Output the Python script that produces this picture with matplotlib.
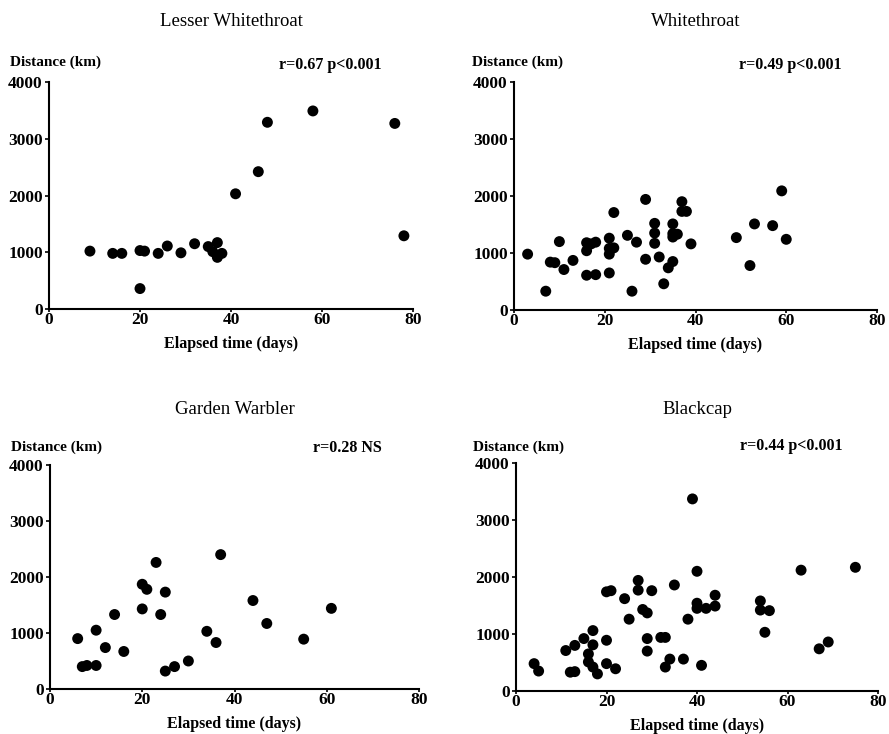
import numpy as np
import matplotlib
matplotlib.use("Agg")
import matplotlib.pyplot as plt

plt.rcParams['font.family'] = ['Liberation Serif', 'DejaVu Serif']

# Lesser Whitethroat
lw_days = [9, 14, 16, 20, 21, 20, 24, 26, 29, 32, 35, 36, 37, 37, 38, 41, 46, 48, 58, 76, 78]
lw_dist = [1020, 980, 980, 1030, 1020, 360, 980, 1110, 990, 1150, 1100, 1010, 1170, 910, 980,
           2030, 2420, 3290, 3490, 3270, 1290]

# Whitethroat
wt_days = [3, 7, 8, 9, 10, 11, 13, 16, 16, 16, 17, 18, 18, 21, 21, 21, 21, 22, 22, 25, 26, 27,
           29, 29, 31, 31, 31, 32, 33, 34, 35, 35, 35, 35, 36, 37, 37, 38, 39, 49, 52, 53, 57, 59, 60]
wt_dist = [980, 330, 840, 830, 1200, 710, 870, 1180, 1040, 610, 1160, 1190, 620, 1260, 1080, 980,
           650, 1090, 1710, 1310, 330, 1190, 890, 1940, 1520, 1350, 1170, 930, 460, 740, 850, 1510,
           1340, 1280, 1330, 1900, 1730, 1730, 1160, 1270, 780, 1510, 1480, 2090, 1240]

# Garden Warbler
gw_days = [6, 7, 8, 10, 10, 12, 14, 16, 20, 21, 20, 23, 24, 25, 25, 27, 30, 34, 36, 37, 44, 47, 55, 61]
gw_dist = [900, 400, 420, 1050, 420, 740, 1330, 670, 1870, 1780, 1430, 2260, 1330, 1730, 320,
           400, 500, 1030, 830, 2400, 1580, 1170, 890, 1440]

# Blackcap
bc_days = [4, 5, 11, 12, 13, 13, 15, 16, 16, 17, 17, 17, 18, 20, 20, 20, 21, 22, 24, 25, 27, 27,
           28, 29, 30, 29, 29, 32, 33, 33, 34, 35, 37, 38, 39, 40, 40, 40, 41, 42, 44, 44, 54, 54,
           56, 55, 63, 67, 69, 75]
bc_dist = [480, 350, 710, 330, 340, 800, 920, 650, 510, 1060, 810, 420, 300, 890, 480, 1740, 1760,
           390, 1620, 1260, 1940, 1770, 1430, 1370, 1760, 920, 700, 940, 940, 420, 560, 1860, 560,
           1260, 3370, 2100, 1540, 1450, 450, 1450, 1680, 1490, 1580, 1420, 1410, 1030, 2120, 740,
           860, 2170]

titles = ['Lesser Whitethroat', 'Whitethroat', 'Garden Warbler', 'Blackcap']
stats = ['r=0.67 p<0.001', 'r=0.49 p<0.001', 'r=0.28 NS', 'r=0.44 p<0.001']
series = [(lw_days, lw_dist), (wt_days, wt_dist), (gw_days, gw_dist), (bc_days, bc_dist)]

W, H = 889, 734
# axes boxes in pixels: left, top, right, bottom
boxes = [(49, 82, 413, 309), (514, 82, 877, 310), (50, 465, 419, 689), (516, 463, 878, 691)]
title_y = [22, 22, 410, 410]
stat_x = [382, 842, 382, 843]
ylab = [(10, 62), (472, 62), (11, 447), (473, 447)]

fig = plt.figure(figsize=(W / 100, H / 100), dpi=100)

for i, (l, t, r, b) in enumerate(boxes):
    ax = fig.add_axes([l / W, 1 - b / H, (r - l) / W, (b - t) / H])
    x, y = series[i]
    ax.scatter(x, y, s=62, color='black', edgecolors='none', clip_on=False, zorder=3)
    ax.set_xlim(0, 80)
    ax.set_ylim(0, 4000)
    ax.set_xticks([0, 20, 40, 60, 80])
    ax.set_yticks([0, 1000, 2000, 3000, 4000])
    for side in ['top', 'right']:
        ax.spines[side].set_visible(False)
    for side in ['left', 'bottom']:
        ax.spines[side].set_linewidth(1.5)
    ax.tick_params(axis='y', direction='out', length=3, width=1.2, pad=1.5, labelsize=12.5)
    ax.tick_params(axis='x', direction='out', length=2, width=1.2, pad=0, labelsize=12.5)
    for lab in ax.get_xticklabels() + ax.get_yticklabels():
        lab.set_fontweight('bold')
    ax.set_xlabel('Elapsed time (days)', fontsize=11.5, fontweight='bold', labelpad=6)

    fig.text((l + r) / 2 / W, 1 - title_y[i] / H, titles[i], fontsize=13.5,
             ha='center', va='center')
    fig.text(stat_x[i] / W, 1 - (t - 17) / H, stats[i], fontsize=11.5, fontweight='bold',
             ha='right', va='center')
    fig.text(ylab[i][0] / W, 1 - ylab[i][1] / H, 'Distance (km)', fontsize=11,
             fontweight='bold', ha='left', va='center')

fig.savefig('out.png', dpi=100)
